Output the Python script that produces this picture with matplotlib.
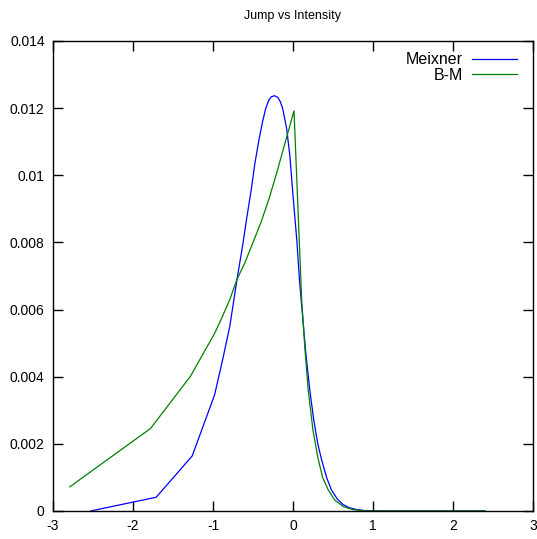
import matplotlib
matplotlib.use("Agg")
import matplotlib.pyplot as plt

plt.rcParams['font.family'] = ['Liberation Sans', 'DejaVu Sans']

meixner_x = [-2.53, -1.71, -1.26, -0.98, -0.88, -0.79, -0.70, -0.63, -0.58, -0.52,
             -0.48, -0.43, -0.38, -0.34, -0.30, -0.27, -0.23, -0.19, -0.16, -0.13,
             -0.08, -0.04, 0.0, 0.05, 0.08, 0.12, 0.16, 0.21, 0.26, 0.31,
             0.36, 0.42, 0.48, 0.55, 0.62, 0.70, 0.80, 0.90, 1.10, 1.50, 2.00, 2.40]
meixner_y = [0.0, 0.00041, 0.00164, 0.00346, 0.0045, 0.0055, 0.0069, 0.0079, 0.0087, 0.0096,
             0.0103, 0.0110, 0.0116, 0.0120, 0.01225, 0.01234, 0.01237, 0.01232, 0.0122, 0.0120,
             0.0114, 0.0106, 0.0094, 0.0080, 0.0069, 0.0058, 0.0047, 0.0036, 0.0027, 0.0020,
             0.0015, 0.0010, 0.00063, 0.00037, 0.0002, 0.0001, 0.00004, 0.00001, 0.0, 0.0, 0.0, 0.0]

bm_x = [-2.79, -1.78, -1.28, -0.98, -0.90, -0.79, -0.70, -0.60, -0.50, -0.40,
        -0.30, -0.20, -0.10, 0.0125, 0.058, 0.108, 0.15, 0.19, 0.25, 0.31,
        0.37, 0.44, 0.52, 0.63, 0.75, 0.93, 1.50, 2.00, 2.40]
bm_y = [0.00072, 0.00246, 0.00402, 0.00529, 0.0057, 0.0063, 0.0069, 0.0074, 0.0080, 0.0086,
        0.0093, 0.0101, 0.01096, 0.01192, 0.00926, 0.0063, 0.0048, 0.0036, 0.0024, 0.0016,
        0.0010, 0.00063, 0.00033, 0.00013, 0.00004, 0.0, 0.0, 0.0, 0.0]

x_ticks = [-3, -2, -1, 0, 1, 2, 3]
x_labels = ['-3', '-2', '-1', '0', '1', '2', '3']
y_ticks = [0, 0.002, 0.004, 0.006, 0.008, 0.010, 0.012, 0.014]
y_labels = ['0', '0.002', '0.004', '0.006', '0.008', '0.01', '0.012', '0.014']

W, H = 537, 539
fig = plt.figure(figsize=(W / 100, H / 100), dpi=100)
ax = fig.add_axes([53 / W, (H - 511) / H, (533 - 53) / W, (511 - 41) / H])

ax.plot(meixner_x, meixner_y, color='#0000ff', lw=0.9, label='Meixner')
ax.plot(bm_x, bm_y, color='#008000', lw=0.9, label='B-M')

ax.set_xlim(-3, 3)
ax.set_ylim(0, 0.014)
ax.set_xticks(x_ticks)
ax.set_xticklabels(x_labels)
ax.set_yticks(y_ticks)
ax.set_yticklabels(y_labels)
ax.tick_params(direction='in', length=7, width=1, top=True, right=True,
               labelsize=10, pad=6, colors='black')
for s in ax.spines.values():
    s.set_linewidth(1)

ax.set_title('Jump vs Intensity', fontsize=9, pad=16)

leg = ax.legend(loc='upper right', frameon=False, markerfirst=False,
                fontsize=11.5, handlelength=2.8, handletextpad=0.56,
                labelspacing=0.05, borderaxespad=0.3,
                bbox_to_anchor=(1 - 5 / 480, 1))
for t in leg.get_texts():
    t.set_ha('right')

fig.savefig('out.png', dpi=100)
